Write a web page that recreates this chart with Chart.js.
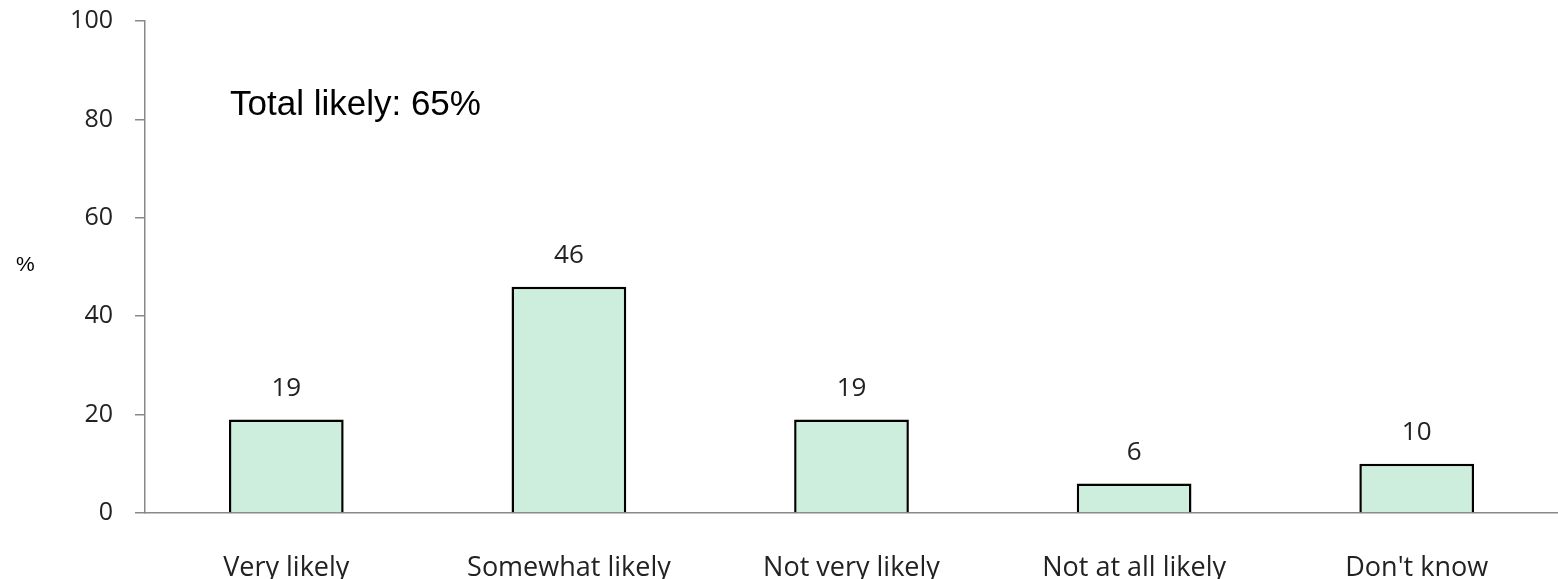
<!DOCTYPE html>
<html>
<head>
<meta charset="utf-8">
<script src="https://cdn.jsdelivr.net/npm/chart.js@4"></script>
<style>
  html, body { margin: 0; padding: 0; background: #fff; }
  #wrap { width: 1558px; height: 579px; position: relative; }
</style>
</head>
<body>
<div id="wrap"><canvas id="myChart" width="1558" height="579"></canvas></div>
<script>
let labels = ['Very likely', 'Somewhat likely', 'Not very likely', 'Not at all likely', "Don't know"];
let values = [19, 46, 19, 6, 10];
let yTicks = [0, 20, 40, 60, 80, 100];
let note = 'Total likely: 65%';
let axisTitle = '%';

let font = '"Open Sans", sans-serif';

// value labels above the bars + the note and the % label
let extras = {
    id: 'extras',
    afterDatasetsDraw(chart) {
        let c = chart.ctx;
        let meta = chart.getDatasetMeta(0);
        c.save();
        c.fillStyle = '#222';
        c.font = '26px ' + font;
        c.textAlign = 'center';
        c.textBaseline = 'middle';
        meta.data.forEach((bar, i) => {
            c.fillText(values[i], bar.x, bar.y - 31);
        });
        c.fillStyle = '#000';
        c.textAlign = 'left';
        c.font = '35px "Liberation Sans", Arial, sans-serif';
        c.fillText(note, 230, 105);
        c.font = '21px "Liberation Sans", Arial, sans-serif';
        c.fillText(axisTitle, 16, 265);
        c.restore();
    }
};

let ctx = document.getElementById('myChart').getContext('2d');
let myChart = new Chart(ctx, {
    type: 'bar',
    data: {
        labels: labels,
        datasets: [{
            data: values,
            backgroundColor: '#cdeddd',
            borderColor: '#000',
            borderWidth: 2.5,
            barPercentage: 0.406,
            categoryPercentage: 1
        }]
    },
    options: {
        responsive: false,
        animation: false,
        layout: { padding: { top: 21, right: 0, left: 0, bottom: 0 } },
        plugins: {
            legend: { display: false },
            tooltip: { enabled: false }
        },
        scales: {
            x: {
                grid: { display: false },
                border: { color: '#888', width: 1.5 },
                ticks: { color: '#222', font: { family: font, size: 27 }, padding: 31, maxRotation: 0 },
                afterFit: (s) => { s.height = 66; }
            },
            y: {
                min: 0,
                max: 100,
                afterBuildTicks: (s) => { s.ticks = yTicks.map(v => ({ value: v })); },
                grid: { drawOnChartArea: false, drawTicks: true, tickLength: 10, color: '#888', lineWidth: 1.5 },
                border: { color: '#888', width: 1.5 },
                ticks: { color: '#222', font: { family: font, size: 25 }, padding: 22 },
                afterFit: (s) => { s.width = 145; s.paddingTop = 0; s.paddingBottom = 0; }
            }
        }
    },
    plugins: [extras]
});
</script>
</body>
</html>
